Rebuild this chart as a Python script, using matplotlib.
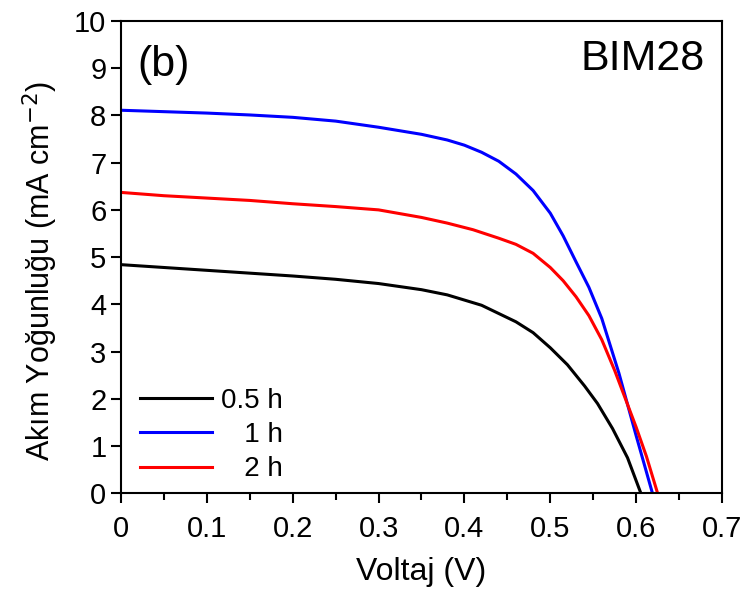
import matplotlib
matplotlib.use("Agg")
import matplotlib.pyplot as plt
from matplotlib.ticker import MultipleLocator

plt.rcParams["font.family"] = ["Liberation Sans", "DejaVu Sans"]

# J-V data (V in volts, J in mA cm^-2)
v_05h = [0, 0.05, 0.1, 0.15, 0.2, 0.25, 0.3, 0.35, 0.38, 0.42, 0.46, 0.48,
         0.5, 0.52, 0.54, 0.555, 0.5725, 0.59, 0.6055]
j_05h = [4.84, 4.78, 4.72, 4.66, 4.60, 4.53, 4.44, 4.31, 4.20, 3.98, 3.63, 3.40,
         3.08, 2.72, 2.27, 1.90, 1.37, 0.75, 0.0]

v_1h = [0, 0.05, 0.1, 0.15, 0.2, 0.25, 0.3, 0.35, 0.38, 0.4, 0.42, 0.44, 0.46,
        0.48, 0.5, 0.515, 0.53, 0.545, 0.56, 0.58, 0.6, 0.619]
j_1h = [8.11, 8.08, 8.05, 8.01, 7.96, 7.88, 7.75, 7.60, 7.48, 7.37, 7.22, 7.03, 6.76,
        6.41, 5.93, 5.45, 4.90, 4.36, 3.70, 2.54, 1.22, 0.0]

v_2h = [0, 0.05, 0.1, 0.15, 0.2, 0.25, 0.3, 0.35, 0.38, 0.41, 0.44, 0.46,
        0.48, 0.5, 0.515, 0.53, 0.545, 0.56, 0.575, 0.59, 0.6, 0.612, 0.625]
j_2h = [6.37, 6.30, 6.25, 6.20, 6.13, 6.07, 6.00, 5.84, 5.72, 5.58, 5.40, 5.27,
        5.08, 4.78, 4.50, 4.16, 3.76, 3.25, 2.60, 1.88, 1.40, 0.78, 0.0]

labels = ["0.5 h", "   1 h", "   2 h"]
colors = ["black", "blue", "red"]

fig = plt.figure(figsize=(7.47, 6), dpi=100)
ax = fig.add_axes([0.162, 0.178, 0.8045, 0.787])

for v, j, lab, c in zip([v_05h, v_1h, v_2h], [j_05h, j_1h, j_2h], labels, colors):
    ax.plot(v, j, color=c, lw=2.2, label=lab)

ax.set_xlim(0, 0.7)
ax.set_ylim(0, 10)
ax.xaxis.set_minor_locator(MultipleLocator(0.05))
ax.yaxis.set_major_locator(MultipleLocator(1))
ax.set_xticks([0, 0.1, 0.2, 0.3, 0.4, 0.5, 0.6, 0.7])
ax.set_xticklabels(["0", "0.1", "0.2", "0.3", "0.4", "0.5", "0.6", "0.7"])

for s in ax.spines.values():
    s.set_linewidth(1.5)
ax.tick_params(which="major", direction="out", length=7, width=1.5, labelsize=21)
ax.tick_params(axis="x", which="major", pad=9)
ax.tick_params(which="minor", direction="out", length=5, width=1.5)

ax.set_xlabel("Voltaj (V)", fontsize=23, labelpad=10)
ax.set_ylabel("Akım Yoğunluğu (mA cm$^{-2}$)", fontsize=22)
ax.yaxis.set_label_coords(-0.102, 0.47)

ax.text(0.028, 0.907, "(b)", transform=ax.transAxes, fontsize=31,
        ha="left", va="center")
ax.text(0.972, 0.92, "BIM28", transform=ax.transAxes, fontsize=31,
        ha="right", va="center")

ax.legend(loc="lower left", bbox_to_anchor=(-0.01, -0.03), frameon=False,
          fontsize=20, handlelength=2.6, handletextpad=0.3, labelspacing=0.3)

plt.savefig("out.png", dpi=100)
